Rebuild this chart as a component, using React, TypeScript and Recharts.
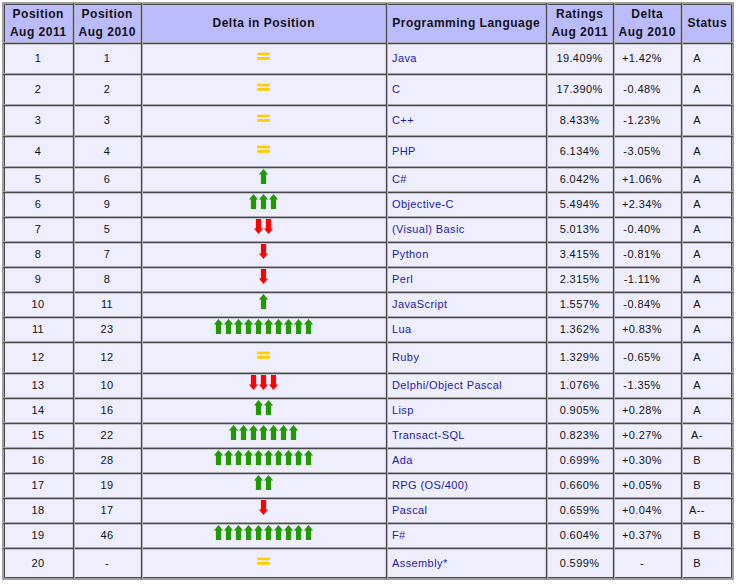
import { ReferenceArea, ReferenceLine, Scatter, ScatterChart, XAxis, YAxis } from "recharts"

const positions2011 = [1, 2, 3, 4, 5, 6, 7, 8, 9, 10, 11, 12, 13, 14, 15, 16, 17, 18, 19, 20]
const positions2010: (number | null)[] = [1, 2, 3, 4, 6, 9, 5, 7, 8, 11, 23, 12, 10, 16, 22, 28, 19, 17, 46, null]
const languages = [
  "Java", "C", "C++", "PHP", "C#", "Objective-C", "(Visual) Basic", "Python", "Perl", "JavaScript",
  "Lua", "Ruby", "Delphi/Object Pascal", "Lisp", "Transact-SQL", "Ada", "RPG (OS/400)", "Pascal", "F#", "Assembly*",
]
const ratings2011 = [19.409, 17.39, 8.433, 6.134, 6.042, 5.494, 5.013, 3.415, 2.315, 1.557, 1.362, 1.329, 1.076, 0.905, 0.823, 0.699, 0.66, 0.659, 0.604, 0.599]
const ratingDeltas: (number | null)[] = [1.42, -0.48, -1.23, -3.05, 1.06, 2.34, -0.4, -0.81, -1.11, -0.84, 0.83, -0.65, -1.35, 0.28, 0.27, 0.3, 0.05, 0.04, 0.37, null]
const statuses = ["A", "A", "A", "A", "A", "A", "A", "A", "A", "A", "A", "A", "A", "A", "A-", "B", "B", "A--", "B", "B"]
const headers = [
  ["Position", "Aug 2011"],
  ["Position", "Aug 2010"],
  ["Delta in Position"],
  ["Programming Language"],
  ["Ratings", "Aug 2011"],
  ["Delta", "Aug 2010"],
  ["Status"],
]

// table layout (same units as the chart's pixel space)
const W = 740
const H = 586
const colEdges = [3, 73, 141, 386, 546, 613, 681, 733]
const colTextX = [38, 107, 263.5, 392, 579.5, 642, 697]
const colAnchor = ["middle", "middle", "middle", "start", "middle", "middle", "middle"]
const tableTop = 3
const headerBottom = 43
const MAX_ARROWS = 10

const FONT = "'Liberation Sans', Arial, sans-serif"

const shifts = positions2011.map((p, i) => (positions2010[i] == null ? 0 : (positions2010[i] as number) - p))

let cursor = headerBottom
const rows = positions2011.map((p, i) => {
  const h = shifts[i] === 0 ? 31 : 25
  const top = cursor
  cursor += h
  return { top, bottom: cursor, mid: top + h / 2, i }
})
const tableBottom = cursor

const fmtDelta = (d: number | null) => (d == null ? "-" : (d > 0 ? "+" : "") + d.toFixed(2) + "%")

const cellText = (col: number, i: number): string => {
  switch (col) {
    case 0: return String(positions2011[i])
    case 1: return positions2010[i] == null ? "-" : String(positions2010[i])
    case 3: return languages[i]
    case 4: return ratings2011[i].toFixed(3) + "%"
    case 5: return fmtDelta(ratingDeltas[i])
    case 6: return statuses[i]
    default: return ""
  }
}

const columns = headers.map((_, c) =>
  rows.map((r) => ({ x: colTextX[c], y: r.mid, col: c, i: r.i, text: cellText(c, r.i), shift: shifts[r.i] }))
)
const headerData = headers.map((lines, c) => ({
  x: c === 6 ? (colEdges[6] + colEdges[7]) / 2 : (colEdges[c] + colEdges[c + 1]) / 2,
  y: (tableTop + headerBottom) / 2,
  lines,
}))

const upPath = "M5,0 L9.6,5.6 L7.6,5.6 L7.6,15 L2.4,15 L2.4,5.6 L0.4,5.6 Z"
const downPath = "M5,15 L9.6,9.4 L7.6,9.4 L7.6,0 L2.4,0 L2.4,9.4 L0.4,9.4 Z"

function DeltaGlyph({ cx, cy, shift }: { cx: number; cy: number; shift: number }) {
  if (shift === 0) {
    return (
      <g>
        <rect x={cx - 6.3} y={cy - 5.8} width={12.6} height={2.6} fill="#ffcc00" />
        <rect x={cx - 6.3} y={cy - 1.5} width={12.6} height={2.8} fill="#ffcc00" />
      </g>
    )
  }
  const n = Math.min(Math.abs(shift), MAX_ARROWS)
  const start = cx - (n * 10) / 2
  return (
    <g>
      {Array.from({ length: n }, (_, k) => (
        <path
          key={k}
          d={shift > 0 ? upPath : downPath}
          transform={`translate(${start + k * 10},${cy - 10.5})`}
          fill={shift > 0 ? "#229900" : "#ff0000"}
        />
      ))}
    </g>
  )
}

function BodyCell(props: any) {
  const { cx, cy, payload } = props
  if (payload.col === 2) return <DeltaGlyph cx={cx} cy={cy} shift={payload.shift} />
  return (
    <text
      x={cx}
      y={cy}
      dy="0.35em"
      textAnchor={colAnchor[payload.col]}
      fontFamily={FONT}
      fontSize={11}
      letterSpacing={0.4}
      fill={payload.col === 3 ? "#1c1ca8" : "#111"}
    >
      {payload.text}
    </text>
  )
}

function HeaderCell(props: any) {
  const { cx, cy, payload } = props
  const lines: string[] = payload.lines
  const gap = 17.5
  return (
    <text textAnchor="middle" fontFamily={FONT} fontSize={12} fontWeight="bold" letterSpacing={0.5} fill="#111">
      {lines.map((l, k) => (
        <tspan key={k} x={cx + 0.25} y={cy + (k - (lines.length - 1) / 2) * gap} dy="0.35em">
          {l}
        </tspan>
      ))}
    </text>
  )
}

const rowEdges = [headerBottom, ...rows.slice(0, -1).map((r) => r.bottom)]
const innerCols = colEdges.slice(1, -1)

export default function App() {
  return (
    <div style={{ width: W, height: H, background: "#fff" }}>
      <style>{`body{margin:0}`}</style>
      <ScatterChart width={W} height={H} margin={{ top: 0, right: 0, bottom: 0, left: 0 }}>
        <XAxis type="number" dataKey="x" domain={[0, W]} hide allowDataOverflow />
        <YAxis type="number" dataKey="y" domain={[0, H]} reversed hide allowDataOverflow />

        <ReferenceArea x1={colEdges[0]} x2={colEdges[7]} y1={tableTop} y2={headerBottom} fill="#bbbbff" fillOpacity={1} stroke="none" />
        <ReferenceArea x1={colEdges[0]} x2={colEdges[7]} y1={headerBottom} y2={tableBottom} fill="#eeeeff" fillOpacity={1} stroke="none" />

        {rowEdges.map((b) => (
          <ReferenceLine key={`hl${b}`} segment={[{ x: colEdges[0], y: b - 0.5 }, { x: colEdges[7], y: b - 0.5 }]} stroke="#c4c4cc" strokeWidth={1} />
        ))}
        {rowEdges.map((b) => (
          <ReferenceLine key={`hd${b}`} segment={[{ x: colEdges[0], y: b + 0.5 }, { x: colEdges[7], y: b + 0.5 }]} stroke="#4a4a4a" strokeWidth={1.3} />
        ))}
        {innerCols.map((c) => (
          <ReferenceLine key={`vl${c}`} segment={[{ x: c + 1.5, y: tableTop }, { x: c + 1.5, y: tableBottom }]} stroke="#c4c4cc" strokeWidth={1} />
        ))}
        {innerCols.map((c) => (
          <ReferenceLine key={`vd${c}`} segment={[{ x: c + 0.5, y: tableTop }, { x: c + 0.5, y: tableBottom }]} stroke="#4a4a4a" strokeWidth={1.3} />
        ))}
        <ReferenceArea x1={colEdges[0]} x2={colEdges[7]} y1={tableTop} y2={tableBottom} fill="none" fillOpacity={0} stroke="#a0a0a0" strokeWidth={2} />
        <ReferenceArea x1={colEdges[0] + 1.5} x2={colEdges[7] - 1.5} y1={tableTop + 1.5} y2={tableBottom - 1.5} fill="none" fillOpacity={0} stroke="#4a4a4a" strokeWidth={1} />

        <Scatter data={headerData} shape={(p: any) => <HeaderCell {...p} />} isAnimationActive={false} />
        {columns.map((data, c) => (
          <Scatter key={c} data={data} shape={(p: any) => <BodyCell {...p} />} isAnimationActive={false} />
        ))}
      </ScatterChart>
    </div>
  )
}
